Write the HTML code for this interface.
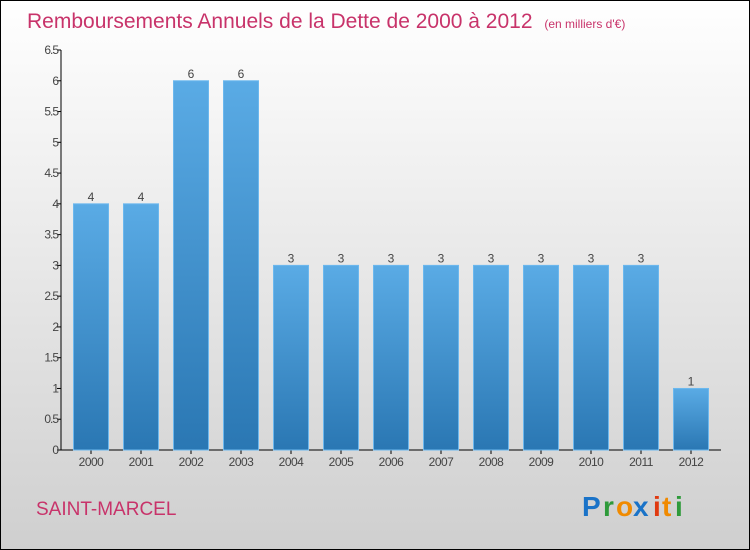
<!DOCTYPE html>
<html><head><meta charset="utf-8"><style>
body{margin:0;width:750px;height:550px;overflow:hidden}
svg{display:block}
text{font-family:"Liberation Sans",sans-serif}
</style></head><body>
<svg id="c" width="750" height="550" xmlns="http://www.w3.org/2000/svg">
<defs>
<linearGradient id="bg" x1="0" y1="0" x2="0" y2="1"><stop offset="0" stop-color="#ffffff"/><stop offset="1" stop-color="#cfcfcf"/></linearGradient>
<linearGradient id="bar" x1="0" y1="0" x2="0" y2="1"><stop offset="0" stop-color="#5aabe5"/><stop offset="1" stop-color="#2a77b3"/></linearGradient>
</defs>
<rect x="0.5" y="0.5" width="749" height="549" fill="url(#bg)" stroke="#000"/>
<text x="27" y="28" font-size="21" fill="#c8336a">Remboursements Annuels de la Dette de 2000 à 2012 <tspan font-size="12" dx="6">(en milliers d'€)</tspan></text>
<text x="36" y="515" font-size="19" fill="#c8336a">SAINT-MARCEL</text>
<g font-size="28" font-weight="bold">
<text x="582" y="516" fill="#1a73c8">P</text><text x="603" y="516" fill="#2e9a3a">r</text><text x="616" y="516" fill="#f08a00">o</text><text x="633" y="516" fill="#1a73c8">x</text><text x="653" y="516" fill="#e03a10">i</text><text x="662" y="516" fill="#f08a00">t</text><text x="675" y="516" fill="#2e9a3a">i</text>
</g>
<g id="axes"></g><g id="bars"></g>
</svg>
<script>
const categories=["2000","2001","2002","2003","2004","2005","2006","2007","2008","2009","2010","2011","2012"];
const values=[4,4,6,6,3,3,3,3,3,3,3,3,1];
const yTicks=[0,0.5,1,1.5,2,2.5,3,3.5,4,4.5,5,5.5,6,6.5];
const NS="http://www.w3.org/2000/svg";
const y0=450,yTop=50,yMax=6.5,x0=61,x1=721;
const y=v=>y0-(v/yMax)*(y0-yTop);
const step=(x1-x0-10)/categories.length;
const xc=i=>x0+5+step*(i+0.5);
function mk(t,a,p){const e=document.createElementNS(NS,t);for(const k in a)e.setAttribute(k,a[k]);p.appendChild(e);return e;}
const ax=document.getElementById('axes'),bs=document.getElementById('bars');
let l=mk('line',{x1:x0,y1:yTop,x2:x0,y2:y0,stroke:'#000'},ax);


l=mk('line',{x1:x0,y1:y0,x2:x1,y2:y0,stroke:'#000'},ax);


yTicks.forEach(v=>{
 const t=mk('line',{x1:x0-4,y1:y(v),x2:x0,y2:y(v),stroke:'#000'},ax);
 
 
 const tx=mk('text',{x:x0-3,y:y(v)+4,'font-size':12,'text-anchor':'end',fill:'#444','letter-spacing':'-1'},ax);
 tx.textContent=String(v);
 
 
});
categories.forEach((c,i)=>{
 const cx=xc(i),w=35,v=values[i];
 const r=mk('rect',{x:cx-w/2,y:y(v),width:w,height:y0-y(v),fill:'url(#bar)',stroke:'#6cb8ee','stroke-width':1},bs);
 
 
 const t=mk('line',{x1:cx,y1:y0,x2:cx,y2:y0+4,stroke:'#000'},ax);
 
 
 const tx=mk('text',{x:cx,y:y0+16,'font-size':12,'text-anchor':'middle',fill:'#444','letter-spacing':'-0.5'},ax);
 tx.textContent=c;
 
 
 const vl=mk('text',{x:cx,y:y(v)-3,'font-size':12,'text-anchor':'middle',fill:'#444'},bs);
 vl.textContent=String(v);
 
 
});
</script>
</body></html>
